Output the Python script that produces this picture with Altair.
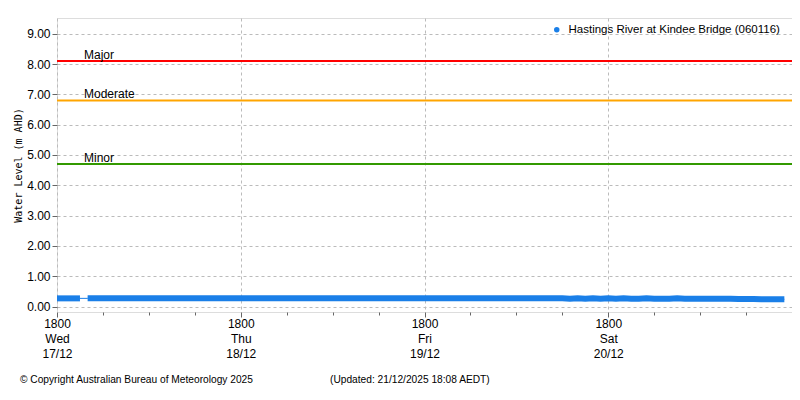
import altair as alt
import pandas as pd

SERIES = "Hastings River at Kindee Bridge (060116)"

# hourly water level (m AHD) from 17/12 18:00 onwards
levels = [
    0.27, 0.27, 0.27, 0.27, 0.27, 0.27, 0.27, 0.27, 0.27, 0.27, 0.27, 0.27,
    0.27, 0.27, 0.27, 0.27, 0.27, 0.27, 0.27, 0.27, 0.27, 0.27, 0.27, 0.27,
    0.27, 0.27, 0.27, 0.27, 0.27, 0.27, 0.27, 0.27, 0.27, 0.27, 0.27, 0.27,
    0.27, 0.27, 0.27, 0.27, 0.27, 0.27, 0.27, 0.27, 0.27, 0.27, 0.27, 0.27,
    0.27, 0.27, 0.27, 0.27, 0.27, 0.27, 0.27, 0.27, 0.27, 0.27, 0.27, 0.27,
    0.27, 0.27, 0.27, 0.27, 0.27, 0.27, 0.27, 0.26, 0.27, 0.26, 0.27, 0.26,
    0.27, 0.26, 0.27, 0.26, 0.26, 0.27, 0.26, 0.26, 0.26, 0.27, 0.26, 0.26,
    0.26, 0.26, 0.26, 0.26, 0.26, 0.25, 0.25, 0.25, 0.24, 0.24, 0.24, 0.24,
]
gap_after = 3  # no readings between 21:00 and 22:00 on 17/12

thr_names = ["Major", "Moderate", "Minor"]
thr_values = [8.1, 6.8, 4.7]
thr_colors = ["#ff0000", "#ffa500", "#339900"]

y_ticks = [0, 1, 2, 3, 4, 5, 6, 7, 8, 9]

times = pd.date_range("2025-12-17 18:00", periods=len(levels), freq="h")
df = pd.DataFrame({
    "time": times.strftime("%Y-%m-%dT%H:%M:%SZ"),
    "level": levels,
    "seg": [0 if i <= gap_after else 1 for i in range(len(levels))],
    "series": SERIES,
})
thr = pd.DataFrame({"name": thr_names, "value": thr_values, "color": thr_colors})

tick_times = pd.date_range("2025-12-17 18:00", "2025-12-21 12:00", freq="6h")
tick_ms = [int(t.value // 1_000_000) for t in tick_times]

x_dom = [alt.DateTime(year=2025, month=12, date=17, hours=18, utc=True),
         alt.DateTime(year=2025, month=12, date=21, hours=18, utc=True)]

FONT = "Liberation Sans"
BLUE = "#1a7fe8"
IS18 = "utchours(datum.value) == 18"

x_axis = alt.Axis(
    title=None, values=tick_ms, domain=False,
    labelExpr="utchours(datum.value) == 18 ? [utcFormat(datum.value, '%H%M'), utcFormat(datum.value, '%a'), utcFormat(datum.value, '%d/%m')] : ''",
    labelFlush=False, labelOverlap=False, labelBound=False,
    labelFont=FONT, labelFontSize=12, labelColor="#000", labelLineHeight=15,
    labelPadding=1,
    tickColor="#666", tickWidth=1,
    tickSize={"condition": {"test": IS18, "value": 5}, "value": 3},
    grid=True, gridColor="#bbbbbb", gridDash=[3, 3],
    gridOpacity={"condition": {"test": IS18, "value": 1}, "value": 0},
)
y_scale = alt.Scale(domain=[-0.18, 9.52], nice=False, zero=False)
y_axis = alt.Axis(
    title="Water Level (m AHD)", values=y_ticks, format=".2f", domain=False,
    labelOverlap=False, labelFlush=False,
    labelFont=FONT, labelFontSize=12, labelColor="#000", labelPadding=2,
    tickColor="#666", tickSize=5,
    grid=True, gridColor="#bbbbbb", gridDash=[3, 3],
    titleFont="DejaVu Sans Mono", titleFontSize=10, titleFontWeight="normal",
    titleColor="#000", titleAngle=270, titleAlign="center", titleBaseline="middle",
    titleX=-39, titleY=147,
)
x_enc = alt.X("time:T", scale=alt.Scale(type="utc", domain=x_dom), axis=x_axis)

thin = alt.Chart(df).mark_line(color=BLUE, strokeWidth=1).encode(
    x=x_enc, y=alt.Y("level:Q", scale=y_scale, axis=y_axis)
)
thick = alt.Chart(df).mark_line(strokeWidth=6, strokeCap="butt").encode(
    x=x_enc, y=alt.Y("level:Q", scale=y_scale, axis=y_axis), detail="seg:N",
    color=alt.Color("series:N", scale=alt.Scale(domain=[SERIES], range=[BLUE]),
                    legend=alt.Legend(title=None, orient="none", legendX=494, legendY=6,
                                      symbolType="circle", symbolSize=30, symbolStrokeWidth=0,
                                      symbolFillColor=BLUE, labelLimit=0,
                                      labelFont=FONT, labelFontSize=11.5, labelColor="#000",
                                      labelOffset=6, padding=0)),
)

rules = alt.Chart(thr).mark_rule(strokeWidth=2).encode(
    y=alt.Y("value:Q", scale=y_scale, axis=y_axis), color=alt.Color("color:N", scale=None)
)
rule_labels = alt.Chart(thr).mark_text(
    align="left", baseline="bottom", dy=1, font=FONT, fontSize=12, color="#000"
).encode(x=alt.value(27), y=alt.Y("value:Q", scale=y_scale, axis=y_axis), text="name:N")

footer_left = alt.Chart(df.head(1)).mark_text(
    align="left", baseline="middle", font=FONT, fontSize=10.2, color="#000"
).encode(x=alt.value(-37), y=alt.value(362), text=alt.value("© Copyright Australian Bureau of Meteorology 2025"))
footer_right = alt.Chart(df.head(1)).mark_text(
    align="left", baseline="middle", font=FONT, fontSize=10.2, color="#000"
).encode(x=alt.value(273), y=alt.value(362), text=alt.value("(Updated: 21/12/2025 18:08 AEDT)"))

chart = alt.layer(thin, thick, rules, rule_labels, footer_left, footer_right).properties(
    width=735, height=294,
    autosize=alt.AutoSizeParams(type="none"),
    padding={"left": 49, "top": 10, "right": 0, "bottom": 80},
).configure_view(stroke="#888888", strokeWidth=1.5).configure(background="white")

chart.save("out.html", embed_options={"renderer": "svg", "actions": False})
